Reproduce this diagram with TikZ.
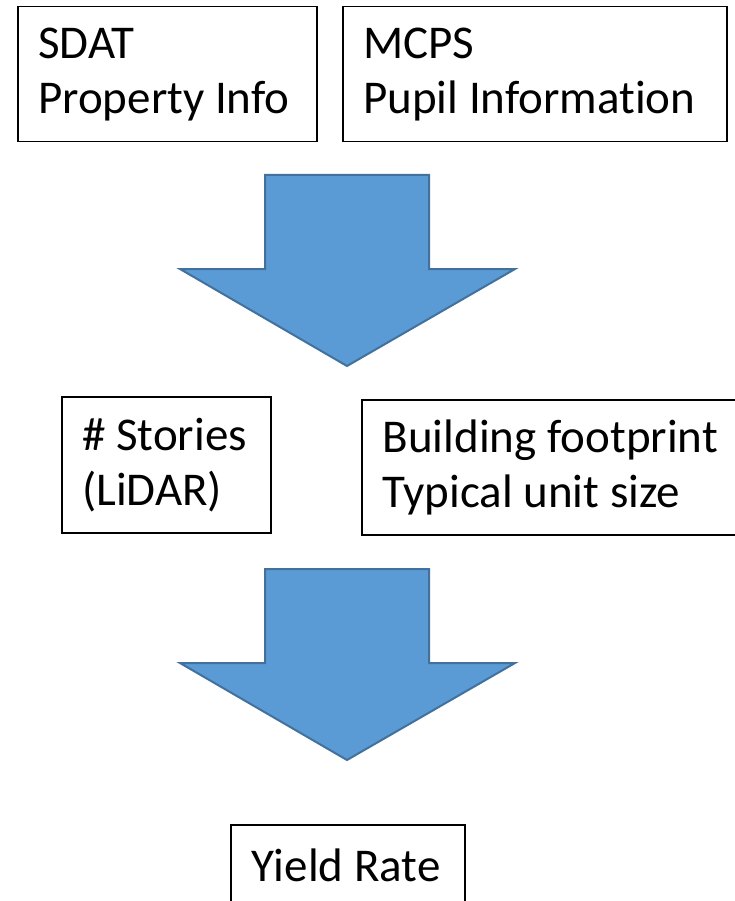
\documentclass[tikz,border=0pt]{standalone}
\usepackage{fontspec}
\setmainfont[Ligatures={NoCommon}]{Carlito}
\definecolor{arrowfill}{HTML}{5B9BD5}
\definecolor{arrowline}{HTML}{41719C}
\newcommand{\myboxfont}{\fontsize{47}{55}\selectfont}
\hyphenpenalty=10000
\exhyphenpenalty=10000
\begin{document}
\begin{tikzpicture}[x=1pt,y=-1pt,
  box/.style={draw=black, line width=1.5pt, anchor=north west, inner xsep=0pt, inner ysep=0pt,
    align=flush left, font=\myboxfont},
  blockarrow/.style={fill=arrowfill, draw=arrowline, line width=2pt, line join=miter}]
\useasboundingbox (0,0) rectangle (735,901);
\node[box, minimum width=299pt, minimum height=135pt, text width=258pt] (sdat) at (17,6) {SDAT\\Property Info};
\node[box, minimum width=384pt, minimum height=135pt, text width=343pt] (mcps) at (342,6) {MCPS\\Pupil Information};
\node[box, minimum width=209pt, minimum height=136pt, text width=168pt] (stories) at (61,396) {\mbox{\# Stories}\\(LiDAR)};
\node[box, minimum width=380pt, minimum height=135pt, text width=338pt] (bldg) at (361,399) {\mbox{Building footprint}\\\mbox{Typical unit size}};
\node[box, minimum width=234pt, minimum height=82pt, text width=192pt] (yield) at (230,824) {Yield Rate};
\draw[blockarrow] (265,175) -- (429,175) -- (429,269) -- (515,269) -- (347,366) -- (180,269) -- (265,269) -- cycle;
\draw[blockarrow] (265,569) -- (429,569) -- (429,663) -- (515,663) -- (347,760) -- (180,663) -- (265,663) -- cycle;
\end{tikzpicture}
\end{document}
